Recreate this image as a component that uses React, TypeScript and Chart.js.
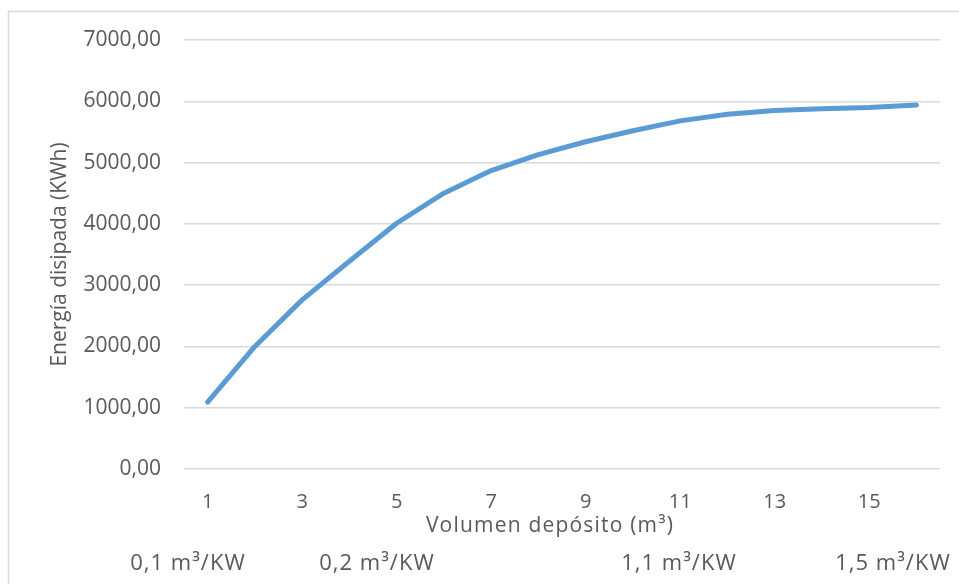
import React, { useEffect, useRef } from "react";
import { Chart, registerables } from "chart.js";

Chart.register(...registerables);

const categories = ["1","2","3","4","5","6","7","8","9","10","11","12","13","14","15","16"];
const energia = [1090, 2000, 2760, 3390, 4010, 4500, 4870, 5130, 5340, 5520, 5680, 5790, 5850, 5880, 5900, 5940];
const yTitle = "Energía disipada (KWh)";
const xTitle = "Volumen depósito (m³)";
const ratioLabels = ["0,1 m³/KW", "0,2 m³/KW", "1,1 m³/KW", "1,5 m³/KW"];
const ratioLabelX = [188, 377, 679, 893];

const FONT = "'Open Sans', 'Segoe UI', sans-serif";
const TEXT = "#595959";

const decorPlugin = {
  id: "decor",
  beforeDraw(chart: any) {
    const ctx = chart.ctx;
    ctx.save();
    ctx.fillStyle = "#ffffff";
    ctx.fillRect(0, 0, chart.width, chart.height);
    ctx.strokeStyle = "#d9d9d9";
    ctx.lineWidth = 1.5;
    ctx.beginPath();
    ctx.moveTo(chart.width, 11.5);
    ctx.lineTo(8.5, 11.5);
    ctx.lineTo(8.5, chart.height);
    ctx.stroke();
    ctx.restore();
  },
  afterDraw(chart: any) {
    const ctx = chart.ctx;
    const area = chart.chartArea;
    ctx.save();
    ctx.fillStyle = TEXT;
    ctx.textAlign = "center";
    ctx.textBaseline = "middle";
    // x title
    ctx.font = `21px ${FONT}`;
    (ctx as any).letterSpacing = "1.2px";
    ctx.fillText(xTitle, 550, 526);
    // y title
    (ctx as any).letterSpacing = "0px";
    ctx.save();
    ctx.translate(60, (area.top + area.bottom) / 2);
    ctx.rotate(-Math.PI / 2);
    ctx.fillText(yTitle, 0, 0);
    ctx.restore();
    // ratio labels
    ctx.font = `22px ${FONT}`;
    (ctx as any).letterSpacing = "1px";
    ratioLabels.forEach((t, i) => {
      ctx.fillText(t, ratioLabelX[i], 564);
    });
    (ctx as any).letterSpacing = "0px";
    ctx.restore();
  },
};

export default function App() {
  const ref = useRef<HTMLCanvasElement | null>(null);
  useEffect(() => {
    document.body.style.margin = "0";
    const canvas = ref.current!;
    const chart = new Chart(canvas, {
      type: "line",
      data: {
        labels: categories,
        datasets: [
          {
            data: energia,
            borderColor: "#5B9BD5",
            backgroundColor: "#5B9BD5",
            borderWidth: 5,
            pointRadius: 0,
            borderCapStyle: "round",
            borderJoinStyle: "round",
            tension: 0,
          },
        ],
      },
      options: {
        animation: false,
        responsive: false,
        devicePixelRatio: 1,
        layout: { padding: { left: 0, right: 19, top: 40, bottom: 0 } },
        plugins: { legend: { display: false }, tooltip: { enabled: false } },
        scales: {
          x: {
            offset: true,
            grid: { display: false, drawTicks: false },
            border: { display: false },
            ticks: {
              autoSkip: false,
              maxRotation: 0,
              padding: 21,
              color: TEXT,
              font: { family: FONT, size: 20 },
              callback: (_v: any, i: number) => (i % 2 === 0 ? categories[i] : ""),
            },
            afterFit: (s: any) => {
              s.height = 115;
            },
          },
          y: {
            min: 0,
            max: 7000,
            grid: { color: "#d9d9d9", lineWidth: 1.5, drawTicks: false },
            border: { display: false },
            ticks: {
              stepSize: 1000,
              padding: 23,
              color: TEXT,
              font: { family: FONT, size: 21 },
              callback: (v: any) => Number(v).toFixed(2).replace(".", ","),
            },
            afterFit: (s: any) => {
              s.width = 184;
            },
          },
        },
      },
      plugins: [decorPlugin],
    });
    return () => chart.destroy();
  }, []);
  return <canvas ref={ref} width={959} height={584} style={{ display: "block" }} />;
}
